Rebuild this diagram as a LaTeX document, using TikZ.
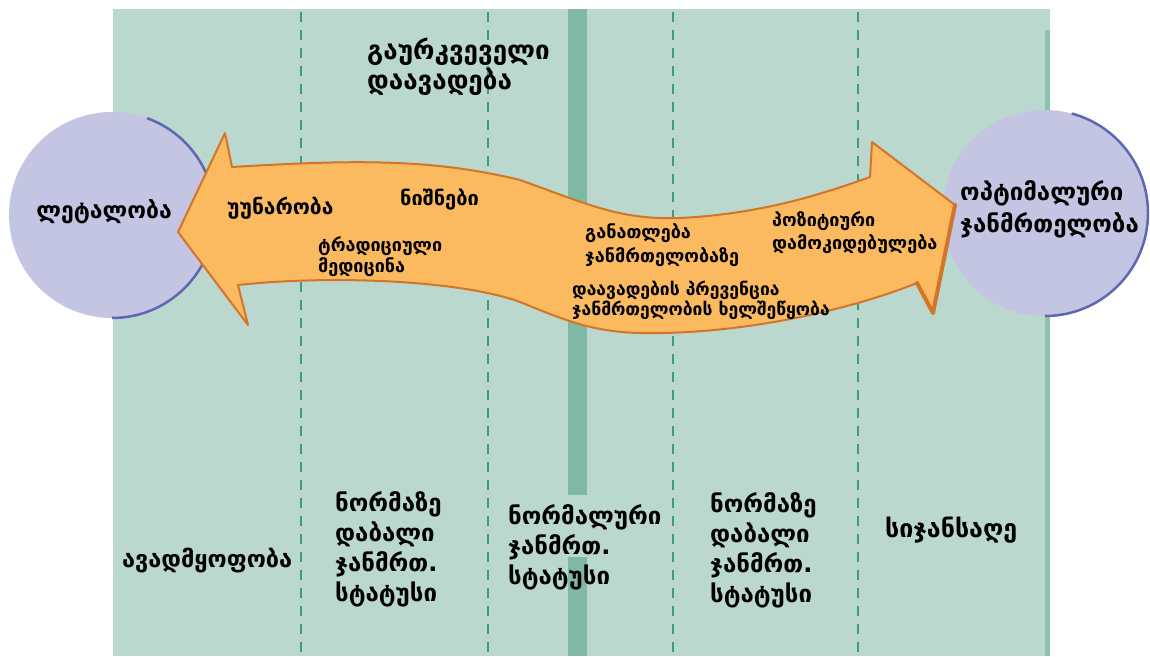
\documentclass[tikz,border=0pt]{standalone}
\usepackage{fontspec}
\setmainfont{DejaVu Sans}
\definecolor{panelgreen}{HTML}{BAD8CD}
\definecolor{edgegreen}{HTML}{8CC2AE}
\definecolor{dashgreen}{HTML}{3E9B77}
\definecolor{bargreen}{HTML}{80B9A3}
\definecolor{circfill}{HTML}{C4C4E3}
\definecolor{circedge}{HTML}{5F67B3}
\definecolor{arrowfill}{HTML}{FBB960}
\definecolor{arrowedge}{HTML}{D27528}
\begin{document}
\begin{tikzpicture}[x=1pt,y=-1pt,
  divider/.style={draw=dashgreen, line width=2pt, dash pattern=on 10pt off 8pt},
  disc/.style={circle, fill=circfill, minimum size=206pt, inner sep=0pt, outer sep=0pt},
  discrim/.style={draw=circedge, line width=2.5pt},
  arrowbody/.style={fill=arrowfill, draw=arrowedge, line width=2pt, line join=round},
  headshade/.style={draw=arrowedge, line width=4pt, line join=round, line cap=round},
  lbl/.style={font=\bfseries\fontsize{24}{30}\selectfont, align=left, inner sep=0pt, anchor=west, text=black},
  albl/.style={font=\bfseries\fontsize{18}{22}\selectfont, align=left, inner sep=0pt, anchor=west, text=black}
]
\useasboundingbox (0,0) rectangle (1150,656);

% stage panel with column dividers
\fill[panelgreen] (113,9) rectangle (1050,656);
\fill[edgegreen] (1045,30) rectangle (1050,656);
\fill[bargreen] (568,9) rectangle (587,495);
\fill[bargreen] (568,557) rectangle (587,656);
\foreach \x in {301,488,673,858} \draw[divider] (\x,12) -- (\x,656);

% end states
\node[disc] (lethal) at (112,215) {};
\node[disc] (optimal) at (1045,213) {};
\draw[discrim] (lethal.-90) arc[start angle=90, end angle=-70, radius=103];
\draw[discrim] (optimal.-90) arc[start angle=90, end angle=-75, radius=103];

% two-way arrow between the end states
\draw[arrowbody] (178,232) -- (225,133) -- (232,167)
  .. controls (350,160) and (430,158) .. (520,180)
  .. controls (590,205) and (620,220) .. (680,218)
  .. controls (760,214) and (820,195) .. (870,177)
  -- (872,142) -- (955,205) -- (933,313) -- (917,283)
  .. controls (850,310) and (740,335) .. (640,333)
  .. controls (590,332) and (560,318) .. (520,302)
  .. controls (460,280) and (330,275) .. (238,285)
  -- (248,325) -- cycle;
\draw[headshade] (955,205) -- (933,313) -- (917,283);

% labels
\node[lbl, font=\bfseries\fontsize{26}{30}\selectfont] (unclear) at (367,67) {გაურკვეველი\\დაავადება};
\node[lbl, anchor=east, font=\bfseries\fontsize{23}{30}\selectfont] (lethaltxt) at (172,212) {ლეტალობა};
\node[lbl, font=\bfseries\fontsize{24}{32}\selectfont] (optimaltxt) at (960,209) {ოპტიმალური\\ჯანმრთელობა};

\node[albl, font=\bfseries\fontsize{21}{22}\selectfont] (disab) at (227,208) {უუნარობა};
\node[albl, font=\bfseries\fontsize{20}{22}\selectfont] (signs) at (400,200) {ნიშნები};
\node[albl, font=\bfseries\fontsize{18}{21}\selectfont] (tradmed) at (318,257) {ტრადიციული\\მედიცინა};
\node[albl, font=\bfseries\fontsize{18}{24}\selectfont] (edu) at (585,245) {განათლება\\ჯანმრთელობაზე};
\node[albl, font=\bfseries\fontsize{18}{23}\selectfont] (attitude) at (772,233) {პოზიტიური\\დამოკიდებულება};
\node[albl, font=\bfseries\fontsize{17.5}{20}\selectfont] (prevent) at (572,300) {დაავადების პრევენცია\\ჯანმრთელობის ხელშეწყობა};

\node[lbl, font=\bfseries\fontsize{23.5}{30}\selectfont] (illness) at (122,560) {ავადმყოფობა};
\node[lbl] (lowA) at (335,549) {ნორმაზე\\დაბალი\\ჯანმრთ.\\სტატუსი};
\node[lbl] (normal) at (508,547) {ნორმალური\\ჯანმრთ.\\სტატუსი};
\node[lbl] (lowB) at (710,550) {ნორმაზე\\დაბალი\\ჯანმრთ.\\სტატუსი};
\node[lbl, font=\bfseries\fontsize{25}{30}\selectfont] (wellness) at (885,530) {სიჯანსაღე};
\end{tikzpicture}
\end{document}
